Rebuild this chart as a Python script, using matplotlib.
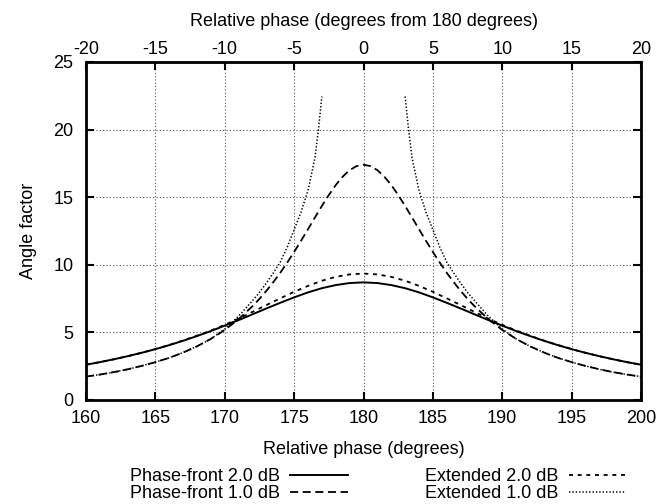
import numpy as np
import matplotlib
matplotlib.use("Agg")
import matplotlib.pyplot as plt

plt.rcParams['font.family'] = ['Liberation Sans', 'DejaVu Sans']
plt.rcParams['axes.unicode_minus'] = False

# phase in degrees
phase = [160, 161, 162, 163, 164, 165, 166, 167, 168, 169, 170, 171, 172, 173, 174, 175, 176, 177, 178, 179, 180,
         181, 182, 183, 184, 185, 186, 187, 188, 189, 190, 191, 192, 193, 194, 195, 196, 197, 198, 199, 200]

pf2 = [2.61, 2.80, 3.01, 3.24, 3.49, 3.76, 4.06, 4.38, 4.73, 5.10, 5.50, 5.91, 6.34, 6.77, 7.19, 7.59, 7.96, 8.27, 8.50, 8.65, 8.70,
       8.65, 8.50, 8.27, 7.96, 7.59, 7.19, 6.77, 6.34, 5.91, 5.50, 5.10, 4.73, 4.38, 4.06, 3.76, 3.49, 3.24, 3.01, 2.80, 2.61]

ext2 = [2.61, 2.80, 3.01, 3.24, 3.49, 3.77, 4.07, 4.40, 4.76, 5.14, 5.56, 6.02, 6.52, 7.02, 7.52, 8.00, 8.44, 8.82, 9.11, 9.29, 9.35,
        9.29, 9.11, 8.82, 8.44, 8.00, 7.52, 7.02, 6.52, 6.02, 5.56, 5.14, 4.76, 4.40, 4.07, 3.77, 3.49, 3.24, 3.01, 2.80, 2.61]

pf1_x = [160, 161, 162, 163, 164, 165, 166, 167, 168, 169, 170, 171,
         172, 172.5, 173, 173.5, 174, 174.5, 175, 175.5, 176, 176.5, 177, 177.5, 178, 178.5, 179, 179.5, 180,
         180.5, 181, 181.5, 182, 182.5, 183, 183.5, 184, 184.5, 185, 185.5, 186, 186.5, 187, 187.5, 188,
         189, 190, 191, 192, 193, 194, 195, 196, 197, 198, 199, 200]
pf1 = [1.73, 1.88, 2.06, 2.27, 2.52, 2.80, 3.12, 3.51, 3.97, 4.52, 5.18, 5.98,
       6.94, 7.48, 8.07, 8.72, 9.41, 10.16, 10.95, 11.78, 12.63, 13.50, 14.35, 15.16, 15.90, 16.52, 17.00, 17.30, 17.40,
       17.30, 17.00, 16.52, 15.90, 15.16, 14.35, 13.50, 12.63, 11.78, 10.95, 10.16, 9.41, 8.72, 8.07, 7.48, 6.94,
       5.98, 5.18, 4.52, 3.97, 3.51, 3.12, 2.80, 2.52, 2.27, 2.06, 1.88, 1.73]

# extended 1.0 dB runs off the top near the centre, so it has a gap there
ext1_x = [160, 161, 162, 163, 164, 165, 166, 167, 168, 169, 170, 171, 172, 172.5, 173, 173.5, 174, 174.5,
          175, 175.5, 176, 176.5, 176.75, 177, 180,
          183, 183.25, 183.5, 184, 184.5, 185, 185.5, 186, 186.5, 187, 187.5, 188, 189,
          190, 191, 192, 193, 194, 195, 196, 197, 198, 199, 200]
ext1 = [1.73, 1.88, 2.06, 2.27, 2.52, 2.80, 3.12, 3.51, 3.97, 4.52, 5.25, 6.20, 7.35, 7.95, 8.65, 9.40, 10.2, 11.3,
        12.6, 13.9, 15.5, 17.9, 20.0, 22.45, np.nan,
        22.45, 20.0, 17.9, 15.5, 13.9, 12.6, 11.3, 10.2, 9.40, 8.65, 7.95, 7.35, 6.20,
        5.25, 4.52, 3.97, 3.51, 3.12, 2.80, 2.52, 2.27, 2.06, 1.88, 1.73]

fig = plt.figure(figsize=(6.58, 5.04), dpi=100)
ax = fig.add_axes([86 / 658, 1 - 400 / 504, (641 - 86) / 658, (400 - 62) / 504])

ax.plot(phase, pf2, color='black', lw=1.4, label='Phase-front 2.0 dB')
ax.plot(pf1_x, pf1, color='black', lw=1.3, dashes=(4.5, 2.5), label='Phase-front 1.0 dB')
ax.plot(phase, ext2, color='black', lw=1.3, dashes=(2.2, 2.6), label='Extended 2.0 dB')
ax.plot(ext1_x, ext1, color='black', lw=1.1, dashes=(0.9, 1.3), label='Extended 1.0 dB')

ax.set_xlim(160, 200)
ax.set_ylim(0, 25)
ax.set_xticks(range(160, 201, 5))
ax.set_yticks(range(0, 26, 5))
ax.grid(True, color='#555555', lw=0.8, dashes=(1, 2))
ax.tick_params(direction='in', length=6, width=1.5, labelsize=13, top=False, right=True)
ax.tick_params(axis='x', pad=7)
ax.tick_params(axis='y', pad=9)
for s in ax.spines.values():
    s.set_linewidth(2)
ax.set_xlabel('Relative phase (degrees)', fontsize=13, labelpad=10)
ax.set_ylabel('Angle factor', fontsize=13, labelpad=12)

ax2 = ax.twiny()
ax2.set_xlim(-20, 20)
ax2.set_xticks(range(-20, 21, 5))
ax2.tick_params(direction='in', length=6, width=1.5, labelsize=13, pad=3)
ax2.set_xlabel('Relative phase (degrees from 180 degrees)', fontsize=13, labelpad=11)

fig.legend(loc='upper left', bbox_to_anchor=(130 / 658, 1 - 468 / 504), ncol=2, frameon=False,
           markerfirst=False, fontsize=13, handlelength=3.2, handletextpad=0.55, columnspacing=4.3,
           labelspacing=0.0, borderpad=0, borderaxespad=0)

fig.savefig('out.png', dpi=100)
